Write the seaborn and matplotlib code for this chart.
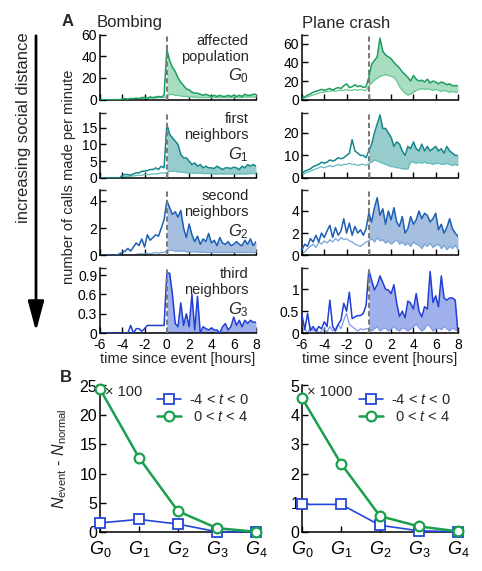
import numpy as np
import pandas as pd
import matplotlib
matplotlib.use("Agg")
import matplotlib.pyplot as plt
import matplotlib.patches as mpatches
from matplotlib.ticker import FormatStrFormatter
import seaborn as sns

# time axis: 15 minute bins from -6 h to +8 h
hours = np.arange(-6, 8.01, 0.25)

# calls per minute, event day (dark line) and normal day (light line)
bomb_g0 = [0, 0, 0, 0, 0, 0, 0, 0, 0.5, 1, 0.5, 1, 1, 1.5, 1, 2, 2, 1.5, 2.5, 2, 2.5, 3, 2.5, 4,
           46, 36, 30, 26, 20, 16, 13, 10, 9, 7, 6, 6, 5, 4, 5, 4, 3, 4, 3, 4, 3, 3, 4, 3, 4, 3, 4, 3, 5, 4, 4, 5, 5]
bomb_g0_norm = [0, 0, 0, 0, 0, 0, 0, 0, 0.3, 0.5, 0.5, 0.5, 0.8, 1, 0.8, 1, 1.2, 1, 1.5, 1.5, 1.5, 2, 2, 2,
                3, 5, 5, 4, 4, 3.5, 3, 3, 2.5, 2.5, 2.5, 2, 2, 2, 2, 2, 2, 2, 2, 2, 2, 2, 2, 2, 2, 2, 2, 2, 2.5, 2.5, 2.5, 2.5, 2.5]
crash_g0 = [2, 3, 5, 6, 8, 9, 10, 11, 10, 11, 12, 10, 12, 13, 12, 15, 17, 13, 14, 16, 14, 15, 13, 14,
            24, 38, 42, 46, 66, 52, 48, 46, 44, 40, 37, 34, 30, 27, 24, 20, 26, 22, 20, 21, 19, 22, 18, 20, 19, 17, 19, 18, 16, 17, 15, 15, 15]
crash_g0_norm = [1, 2, 3, 4, 5, 6, 7, 8, 8, 9, 9, 10, 9, 10, 10, 10, 11, 10, 10, 11, 10, 11, 10, 10,
                 15, 18, 21, 23, 25, 26, 27, 26, 25, 24, 20, 14, 10, 7, 5, 6, 8, 10, 11, 12, 11, 12, 11, 10, 11, 10, 9, 10, 9, 8, 9, 8, 8]

bomb_g1 = [0, 0, 0, 0, 0, 0, 0, 0, 0.8, 1, 1, 0.8, 1.2, 1.5, 1.5, 2, 2, 2.2, 2.5, 2.5, 3, 2.5, 3.5, 3,
           16, 13, 12, 11, 10, 7, 6, 6, 5, 4, 4.5, 3.5, 4, 3, 3.5, 3, 3, 2.8, 3.5, 3, 2.5, 3, 3, 2.8, 3.2, 3, 2.5, 3.5, 3, 4, 3.5, 4, 3.5]
bomb_g1_norm = [0, 0, 0, 0, 0, 0, 0, 0, 0.3, 0.4, 0.5, 0.5, 0.6, 0.7, 0.8, 0.8, 1, 1, 1, 1.2, 1.2, 1.3, 1.5, 1.5,
                1.5, 2, 2, 2, 1.8, 1.8, 1.6, 1.5, 1.5, 1.5, 1.4, 1.4, 1.4, 1.3, 1.3, 1.3, 1.3, 1.2, 1.2, 1.2, 1.2, 1.2, 1.2, 1.2, 1.2, 1.2, 1.2, 1.2, 1.2, 1.2, 1.3, 1.3, 1.3]
crash_g1 = [2, 3, 3.5, 4, 5, 5.5, 6, 7, 6.5, 7, 8, 7.5, 8, 9, 8.5, 9, 10, 11, 17, 12, 11, 10, 10, 9,
            12, 15, 20, 24, 28, 22, 22, 20, 18, 14, 16, 15, 12, 10, 14, 13, 16, 13, 12, 15, 12, 14, 12, 13, 14, 12, 13, 11, 14, 12, 11, 10, 10]
crash_g1_norm = [1.5, 2, 2.5, 3, 3.5, 4, 4.5, 5, 4.5, 5, 5.5, 5, 5.5, 6, 5.5, 6, 6, 6.5, 6, 6, 5.5, 6, 6, 5.5,
                 6.5, 7, 8, 7.5, 7, 6.5, 6, 5.5, 5, 5, 4.5, 4.5, 4, 4, 4, 7, 7, 6.5, 7, 6.5, 7, 6.5, 6.5, 6, 6.5, 6.5, 6, 6, 6.5, 6, 5.5, 6, 5.5]

bomb_g2 = [0, 0, 0, 0, 0, 0, 0, 0.1, 0.2, 0.3, 0.5, 0.3, 0.6, 0.9, 0.7, 1.2, 0.6, 1.5, 1.1, 1.3, 1.5, 1.4, 2.0, 2.6,
           4.0, 3.5, 3.0, 3.2, 2.8, 3.3, 2.0, 1.3, 2.3, 1.5, 1.0, 1.4, 0.8, 1.2, 1.0, 1.6, 0.9, 1.1, 0.7, 1.3, 0.9, 0.8, 1.0, 0.7, 0.8, 1.0, 0.8, 0.7, 1.1, 0.8, 1.2, 0.7, 1.0]
bomb_g2_norm = [0, 0, 0, 0, 0, 0, 0, 0, 0, 0, 0, 0, 0, 0.05, 0.1, 0.1, 0.1, 0.15, 0.1, 0.15, 0.2, 0.15, 0.2, 0.2,
                0.3, 0.35, 0.35, 0.3, 0.3, 0.3, 0.3, 0.25, 0.25, 0.25, 0.25, 0.25, 0.2, 0.25, 0.2, 0.2, 0.2, 0.2, 0.2, 0.2, 0.2, 0.2, 0.2, 0.2, 0.2, 0.2, 0.2, 0.2, 0.2, 0.2, 0.2, 0.2, 0.2]
crash_g2 = [0.5, 1.0, 0.8, 1.5, 1.2, 1.8, 1.2, 2.0, 1.6, 2.2, 2.7, 1.6, 2.5, 1.8, 2.2, 3.3, 2.0, 2.9, 1.8, 2.6, 2.0, 2.3, 1.8, 2.4,
            3.8, 3.0, 4.3, 5.2, 3.6, 4.2, 2.8, 4.0, 3.2, 4.3, 3.0, 2.6, 3.5, 2.0, 2.4, 3.5, 2.8, 3.2, 4.0, 3.3, 3.8, 3.6, 3.0, 3.3, 3.8, 2.3, 2.8, 2.0, 2.5, 3.3, 2.4, 2.0, 1.7]
crash_g2_norm = [0.1, 0.3, 0.6, 0.8, 1.0, 0.7, 1.2, 1.0, 1.3, 1.1, 1.4, 1.2, 1.5, 1.3, 1.6, 1.4, 1.5, 1.3, 1.2, 1.0, 0.9, 0.8, 1.0, 1.2,
                 1.3, 1.5, 1.2, 1.6, 1.3, 1.4, 1.1, 1.3, 1.0, 1.2, 1.4, 1.0, 1.2, 0.9, 1.1, 0.8, 1.2, 1.0, 0.9, 0.6, 1.0, 0.8, 1.1, 0.7, 0.9, 1.0, 0.6, 0.9, 0.5, 0.8, 0.6, 0.9, 0.5]

bomb_g3 = [0, 0, 0, 0, 0, 0, 0, 0, 0, 0, 0, 0.12, 0, 0.07, 0.07, 0.03, 0.07, 0.12, 0.12, 0.12, 0.12, 0.12, 0.12, 0.12,
           0.93, 0.93, 0.6, 0.15, 0.1, 0.47, 0.12, 0.3, 0.1, 0.6, 0.05, 0.57, 0, 0.1, 0.07, 0.05, 0.08, 0.05, 0.05, 0, 0.1, 0.15, 0.05, 0.1, 0.25, 0.12, 0.2, 0.1, 0.2, 0.15, 0.2, 0.17, 0.17]
bomb_g3_norm = [0, 0, 0, 0, 0, 0, 0, 0, 0, 0, 0, 0, 0, 0, 0, 0, 0, 0, 0, 0, 0, 0, 0, 0,
                0.02, 0.02, 0.02, 0.01, 0.02, 0.01, 0.02, 0.01, 0.02, 0.01, 0.02, 0.01, 0.02, 0.01, 0.02, 0.01, 0.02, 0.01, 0.02, 0.01, 0.02, 0.01, 0.02, 0.01, 0.02, 0.01, 0.02, 0.01, 0.02, 0.01, 0.02, 0.01, 0.02]
crash_g3 = [0.42, 0.08, 0.45, 0.05, 0.15, 0.04, 0.15, 0.1, 0.26, 0.15, 0.75, 0.15, 0.05, 0.2, 0.3, 0.68, 0.5, 0.93, 0.33, 0.37, 0.4, 0.4, 0.45, 0.63,
            1.43, 1.2, 0.98, 1.1, 1.3, 1.15, 1.0, 0.98, 0.9, 1.1, 0.68, 0.38, 0.5, 0.35, 0.73, 0.68, 0.55, 0.9, 0.5, 0.37, 0.6, 0.55, 1.4, 0.7, 0.85, 0.6, 1.3, 0.8, 0.75, 0.8, 0.8, 0.75, 0.0]
crash_g3_norm = [0.05, 0.1, 0, 0.15, 0.05, 0.1, 0, 0.05, 0.1, 0.02, 0.15, 0.05, 0.1, 0.2, 0.1, 0.3, 0.45, 0.2, 0.15, 0.1, 0.05, 0.1, 0.08, 0.1,
                 0.1, 0.05, 0.1, 0.15, 0.05, 0.1, 0.12, 0.05, 0.1, 0.15, 0.08, 0.05, 0.12, 0.1, 0.05, 0.1, 0.15, 0.2, 0.12, 0.05, 0.1, 0.2, 0.15, 0.05, 0.1, 0.12, 0.08, 0.15, 0.1, 0.05, 0.12, 0.08, 0.05]

# panel B: excess calls
groups = ["$G_0$", "$G_1$", "$G_2$", "$G_3$", "$G_4$"]
bomb_before = [1.6, 2.2, 1.4, 0.1, 0.1]      # x 100
bomb_after = [24.4, 12.7, 3.6, 0.7, 0.1]
crash_before = [0.95, 0.95, 0.24, 0.05, 0.02]  # x 1000
crash_after = [4.57, 2.34, 0.55, 0.2, 0.03]

sns.set_style("ticks")
plt.rcParams["font.family"] = ["Liberation Sans", "DejaVu Sans"]
plt.rcParams["mathtext.fontset"] = "custom"
plt.rcParams["mathtext.rm"] = "Liberation Sans"
plt.rcParams["mathtext.it"] = "Liberation Sans:italic"
plt.rcParams["axes.unicode_minus"] = False

W, H = 482, 571
fig = plt.figure(figsize=(W / 100, H / 100), dpi=100)


def add_ax(x0, top, w, h):
    return fig.add_axes([x0 / W, 1 - (top + h) / H, w / W, h / H])


def style_ax(ax, fs):
    for s in ["top", "right"]:
        ax.spines[s].set_visible(False)
    for s in ["left", "bottom"]:
        ax.spines[s].set_linewidth(1.1)
        ax.spines[s].set_color("black")
    ax.tick_params(direction="in", length=4, width=1, labelsize=fs, pad=2, colors="black")
    ax.tick_params(which="minor", direction="in", length=4, width=1)


colors = [("#1a9e5c", "#63c892", "#a9ddc1"),
          ("#14878a", "#62bdbd", "#96cccc"),
          ("#1c5fb4", "#79a5da", "#a6bfe0"),
          ("#1f3fd6", "#8499ee", "#a0b0ea")]
bomb_ev = [bomb_g0, bomb_g1, bomb_g2, bomb_g3]
bomb_nm = [bomb_g0_norm, bomb_g1_norm, bomb_g2_norm, bomb_g3_norm]
crash_ev = [crash_g0, crash_g1, crash_g2, crash_g3]
crash_nm = [crash_g0_norm, crash_g1_norm, crash_g2_norm, crash_g3_norm]
ylims = [(60, 19.5, 4.8, 1.01), (70, 29, 5.9, 1.48)]
yticks = [([0, 20, 40, 60], [0, 5, 10, 15], [0, 2, 4], [0, 0.3, 0.6, 0.9]),
          ([0, 20, 40, 60], [0, 10, 20], [0, 2, 4], [0, 0.5, 1])]
labels = [("affected", "population"), ("first", "neighbors"),
          ("second", "neighbors"), ("third", "neighbors")]
tops = [34.5, 112.7, 190, 268]
lefts = [100, 302]
post = hours >= 0

for c, (evs, nms) in enumerate([(bomb_ev, bomb_nm), (crash_ev, crash_nm)]):
    for r in range(4):
        ax = add_ax(lefts[c], tops[r], 156, 65.2)
        dark, light, fill = colors[r]
        ev = np.array(evs[r])
        nm = np.array(nms[r])
        ax.fill_between(hours[post], nm[post], ev[post], color=fill, lw=0, zorder=1)
        sns.lineplot(x=hours, y=nm, ax=ax, color=light, lw=0.9, zorder=2)
        sns.lineplot(x=hours, y=ev, ax=ax, color=dark, lw=1.1, zorder=3)
        ax.axvline(0, color="#7a7a7a", ls=(0, (2.5, 1.5)), lw=1.5, zorder=4)
        ax.set_xlim(-6, 8)
        ax.set_ylim(0, ylims[c][r])
        ax.set_xticks([-6, -4, -2, 0, 2, 4, 6, 8])
        ax.set_yticks(yticks[c][r])
        ax.set_yticks([ylims[c][r]], minor=True)
        ax.yaxis.set_major_formatter(FormatStrFormatter("%g"))
        ax.set_ylabel("")
        style_ax(ax, 10)
        if r < 3:
            ax.set_xticklabels([])
            ax.set_xlabel("")
        else:
            ax.tick_params(axis="x", pad=3.5)
            ax.set_xlabel("time since event [hours]", fontsize=10.5, labelpad=0)
        if c == 0:
            ax.text(0.955, 0.845, labels[r][0], transform=ax.transAxes, ha="right",
                    va="baseline", fontsize=10.5)
            ax.text(0.955, 0.595, labels[r][1], transform=ax.transAxes, ha="right",
                    va="baseline", fontsize=10.5)
            ax.text(0.955, 0.29, "$G_%d$" % r, transform=ax.transAxes, ha="right",
                    va="baseline", fontsize=12)

# panel B
for c, (before, after, mult, ymax, yt) in enumerate([
        (bomb_before, bomb_after, "× 100", 25, [0, 5, 10, 15, 20, 25]),
        (crash_before, crash_after, "× 1000", 5, [0, 1, 2, 3, 4, 5])]):
    ax = add_ax(lefts[c], 385.5, 156, 146.8)
    pos = np.arange(len(groups))
    sns.lineplot(x=pos, y=before, ax=ax, color="#2446d8", lw=1.2, marker="s", ms=6.5,
                 mfc="white", mec="#2446d8", mew=1.3, clip_on=False, zorder=3,
                 label="-4 < $t$ < 0")
    sns.lineplot(x=pos, y=after, ax=ax, color="#18a04c", lw=1.8, marker="o", ms=7,
                 mfc="white", mec="#18a04c", mew=1.6, clip_on=False, zorder=4,
                 label=" 0 < $t$ < 4")
    ax.set_xlim(0, 4)
    ax.set_ylim(0, ymax)
    ax.set_xticks(pos)
    ax.set_xticklabels(groups, fontsize=13)
    ax.set_yticks(yt)
    style_ax(ax, 11.5)
    ax.tick_params(axis="x", labelsize=13, pad=5)
    ax.text(0.035, 0.955, mult, transform=ax.transAxes, ha="left", va="center", fontsize=10.5)
    ax.legend(loc="upper right", frameon=False, fontsize=10.5, handlelength=1.7,
              handletextpad=0.5, labelspacing=0.25, borderaxespad=0.1)
    if c == 0:
        ax.set_ylabel("$N_{\\rm event}$ - $N_{\\rm normal}$", fontsize=11.5)
        ax.yaxis.set_label_coords(-0.2, 0.5)

fig.text(62 / W, 1 - 22 / H, "A", fontsize=12, fontweight="bold", ha="left", va="center")
fig.text(60 / W, 1 - 377 / H, "B", fontsize=12, fontweight="bold", ha="left", va="center")
fig.text(97 / W, 1 - 22 / H, "Bombing", fontsize=12, ha="left", va="center")
fig.text(302 / W, 1 - 23 / H, "Plane crash", fontsize=12, ha="left", va="center")
fig.text(69 / W, 1 - 177 / H, "number of calls made per minute", fontsize=10.5,
         rotation=90, ha="center", va="center")
fig.text(24 / W, 1 - 128 / H, "increasing social distance", fontsize=12,
         rotation=90, ha="center", va="center")
fig.add_artist(mpatches.FancyArrowPatch((36 / W, 1 - 33 / H), (36 / W, 1 - 334 / H),
                                        transform=fig.transFigure, color="black", lw=2,
                                        arrowstyle="-|>,head_length=1.3,head_width=0.35",
                                        mutation_scale=14))

fig.savefig("out.png", dpi=100)
